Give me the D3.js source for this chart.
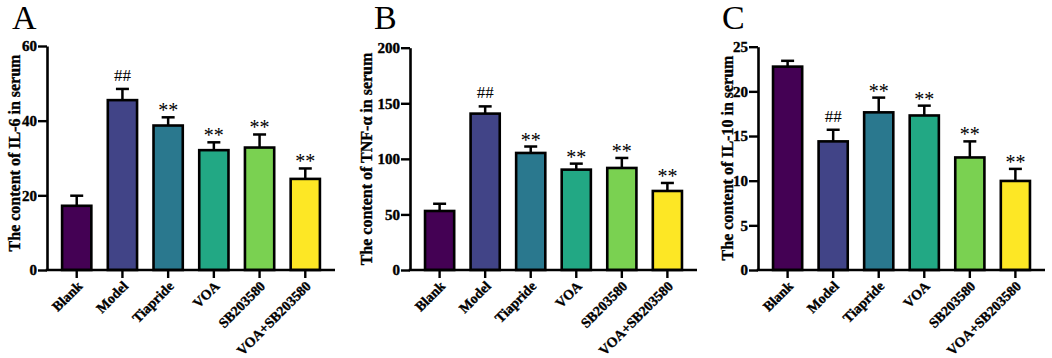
<!DOCTYPE html>
<html>
<head>
<meta charset="utf-8">
<script src="https://cdn.jsdelivr.net/npm/d3@7"></script>
<style>
  body { margin: 0; background: #fff; }
  svg { display: block; font-family: "Liberation Serif", "Times New Roman", serif; }
</style>
</head>
<body>
<svg id="chart" width="1052" height="358"></svg>
<script>
// groups shared by all three panels
const groups = ["Blank", "Model", "Tiapride", "VOA", "SB203580", "VOA+SB203580"]
const colors = ["#440154", "#414487", "#2a788e", "#22a884", "#7ad151", "#fde725"]

// IL-6
const il6Mean = [17.2, 45.5, 38.7, 32.1, 32.8, 24.4]
const il6Err = [2.7, 3.0, 2.2, 2.1, 3.5, 2.8]
const il6Sig = ["", "##", "**", "**", "**", "**"]
const il6Ticks = [0, 20, 40, 60]

// TNF-alpha
const tnfMean = [53.1, 140.7, 105.3, 90.3, 91.8, 71.1]
const tnfErr = [6.5, 6.5, 5.8, 5.4, 9.0, 7.2]
const tnfSig = ["", "##", "**", "**", "**", "**"]
const tnfTicks = [0, 50, 100, 150, 200]

// IL-10
const il10Mean = [22.77, 14.4, 17.65, 17.3, 12.6, 9.97]
const il10Err = [0.65, 1.3, 1.65, 1.1, 1.8, 1.35]
const il10Sig = ["", "##", "**", "**", "**", "**"]
const il10Ticks = [0, 5, 10, 15, 20, 25]

const svg = d3.select("#chart")

const panels = [
    { letter: "A", lx: 12, x0: 47, x1: 335, y1: 46, max: 60, ticks: il6Ticks,
      mean: il6Mean, err: il6Err, sig: il6Sig, titleX: 20, titleY: 153,
      title: "The content of IL-6 in serum" },
    { letter: "B", lx: 374, x0: 410, x1: 697, y1: 47.7, max: 200, ticks: tnfTicks,
      mean: tnfMean, err: tnfErr, sig: tnfSig, titleX: 372, titleY: 159,
      title: "The content of TNF-α in serum" },
    { letter: "C", lx: 722, x0: 758, x1: 1045, y1: 46.7, max: 25, ticks: il10Ticks,
      mean: il10Mean, err: il10Err, sig: il10Sig, titleX: 733, titleY: 158,
      title: "The content of IL-10 in serum" }
]

const y0 = 270

// heavier look for the bold serif text
function heavy(sel, w) {
    sel.attr("font-weight", "bold")
        .attr("stroke", "#000")
        .attr("stroke-width", w)
        .attr("fill", "#000")
}

panels.forEach(p => {
    const g = svg.append("g")

    const x = d3.scaleBand()
        .domain(groups)
        .range([p.x0, p.x1])
        .paddingInner(0.36)
        .paddingOuter(0.33)

    const y = d3.scaleLinear()
        .domain([0, p.max])
        .range([y0, p.y1])

    const rows = groups.map((name, i) => ({
        name, mean: p.mean[i], err: p.err[i], sig: p.sig[i], color: colors[i]
    }))

    // error bars (up only, the bar hides the lower half)
    const eb = g.append("g")
    eb.selectAll("line.stem")
        .data(rows)
        .join("line")
        .attr("class", "stem")
        .attr("x1", d => x(d.name) + x.bandwidth() / 2)
        .attr("x2", d => x(d.name) + x.bandwidth() / 2)
        .attr("y1", d => y(d.mean))
        .attr("y2", d => y(d.mean + d.err))
        .attr("stroke", "#000")
        .attr("stroke-width", 2.5)
    eb.selectAll("line.cap")
        .data(rows)
        .join("line")
        .attr("class", "cap")
        .attr("x1", d => x(d.name) + x.bandwidth() / 2 - 6.5)
        .attr("x2", d => x(d.name) + x.bandwidth() / 2 + 6.5)
        .attr("y1", d => y(d.mean + d.err))
        .attr("y2", d => y(d.mean + d.err))
        .attr("stroke", "#000")
        .attr("stroke-width", 2.5)

    g.append("g").selectAll("rect")
        .data(rows)
        .join("rect")
        .attr("x", d => x(d.name))
        .attr("y", d => y(d.mean))
        .attr("width", x.bandwidth())
        .attr("height", d => y0 - y(d.mean))
        .attr("fill", d => d.color)
        .attr("stroke", "#000")
        .attr("stroke-width", 2.6)

    // significance marks
    g.append("g").selectAll("text")
        .data(rows.filter(d => d.sig))
        .join("text")
        .attr("x", d => x(d.name) + x.bandwidth() / 2)
        .attr("y", d => y(d.mean + d.err) - (d.sig === "**" ? 0 : 8))
        .attr("text-anchor", "middle")
        .attr("font-size", d => d.sig === "**" ? 20 : 17)
        .text(d => d.sig)

    // y axis
    const yAxis = g.append("g")
        .attr("transform", `translate(${p.x0},0)`)
        .call(d3.axisLeft(y).tickValues(p.ticks).tickSize(9).tickSizeOuter(0).tickPadding(1))
    yAxis.select(".domain").attr("stroke-width", 2.6)
    yAxis.selectAll(".tick line").attr("stroke-width", 2.4)
    yAxis.selectAll(".tick text")
        .attr("font-family", "Liberation Serif, serif")
        .attr("font-size", 15)
        .call(heavy, 0.4)

    // x axis
    const xAxis = g.append("g")
        .attr("transform", `translate(0,${y0})`)
        .call(d3.axisBottom(x).tickSize(8).tickSizeOuter(0))
    xAxis.select(".domain").attr("stroke-width", 2.6)
        .attr("d", `M${p.x0 - 1.3},0H${p.x1}`)
    xAxis.selectAll(".tick line").attr("stroke-width", 2.4)
    xAxis.selectAll(".tick text")
        .attr("font-family", "Liberation Serif, serif")
        .attr("font-size", 14)
        .call(heavy, 0.35)
        .attr("text-anchor", "end")
        .attr("x", 0)
        .attr("y", 0)
        .attr("dy", "0.35em")
        .attr("transform", "translate(3,13.5) rotate(-45)")

    // y title
    g.append("text")
        .attr("transform", `translate(${p.titleX},${p.titleY}) rotate(-90)`)
        .attr("text-anchor", "middle")
        .attr("font-size", 16)
        .call(heavy, 0.35)
        .text(p.title)

    // panel letter
    g.append("text")
        .attr("x", p.lx)
        .attr("y", 29)
        .attr("font-size", 34)
        .text(p.letter)
})
</script>
</body>
</html>
